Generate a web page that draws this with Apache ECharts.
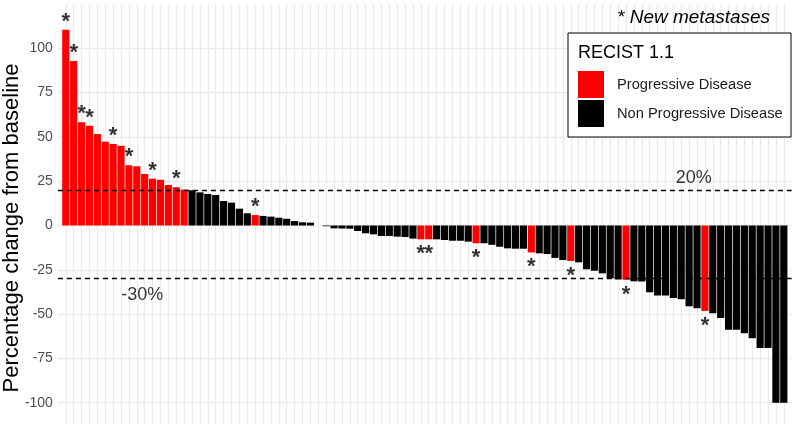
<!DOCTYPE html>
<html><head><meta charset="utf-8">
<script src="https://cdn.jsdelivr.net/npm/echarts@6/dist/echarts.min.js"></script>
<style>html,body{margin:0;padding:0;background:#fff}#c{width:794px;height:424px}</style>
</head><body><div id="c"></div>
<script>
// Percentage change from baseline, one bar per patient (sorted)
const changes = [
  110.5, 92.8, 58.2, 56.3, 51.6, 47.3, 46.0, 45.0, 34.0, 33.4,
  29.1, 26.4, 25.8, 22.9, 21.6, 20.3, 19.9, 18.7, 17.8, 17.2,
  13.8, 12.9, 9.5, 6.9, 5.9, 5.4, 5.0, 4.4, 3.8, 2.5,
  1.8, 1.6, 0, -0.4, -1.6, -1.7, -1.8, -3.1, -4.4, -5.0,
  -5.9, -5.9, -6.3, -6.5, -7.4, -7.8, -7.8, -7.8, -8.2, -8.6,
  -8.6, -9.1, -10.0, -10.0, -10.9, -12.0, -12.9, -13.1, -13.1, -15.2,
  -15.7, -16.1, -18.3, -19.5, -20.0, -20.8, -24.7, -25.5, -27.0, -29.8,
  -30.4, -30.6, -31.5, -31.6, -37.7, -39.5, -39.5, -40.9, -41.6, -45.6,
  -46.7, -48.2, -49.5, -52.2, -58.9, -58.9, -60.8, -63.6, -69.1, -69.1,
  -100, -100
];
// 1-based positions of bars with RECIST progressive disease
const progressiveBars = [1,2,3,4,5,6,7,8,9,10,11,12,13,14,15,16,25,46,47,53,60,65,72,82];
// 1-based positions of bars with new metastases (*)
const metastasesBars = [1,2,3,4,7,9,12,15,25,46,47,53,60,65,72,82];
const yTicks = [-100,-75,-50,-25,0,25,50,75,100];
const thresholds = [20, -30];
const thresholdLabels = [[80.6, 26.6, '20%'], [10.7, -39.4, '-30%']];
const legendNames = ['Progressive Disease', 'Non Progressive Disease'];
const legendTitle = 'RECIST 1.1';
const noteText = '* New metastases';
const yTitle = 'Percentage change from baseline';

const FONT = '"Liberation Sans", Arial, sans-serif';
const pdData = [], npdData = [];
changes.forEach((v, i) => {
  const pos = i + 1;
  if (progressiveBars.includes(pos)) pdData.push([pos, v]); else npdData.push([pos, v]);
});
const starData = metastasesBars.map(p => {
  const v = changes[p - 1];
  return { value: [p, v], label: { offset: [0, v >= 0 ? -8 : 15] } };
});

const chart = echarts.init(document.getElementById('c'), null, { renderer: 'canvas' });
chart.setOption({
  animation: false,
  backgroundColor: '#fff',
  grid: { left: 57.9, top: 4, width: 733.8, height: 443, containLabel: false, outerBoundsMode: 'none' },
  xAxis: {
    type: 'value', min: 0, max: changes.length + 1, interval: 1,
    axisLine: { show: false }, axisTick: { show: false }, axisLabel: { show: false },
    splitLine: { show: true, showMinLine: false, showMaxLine: false, lineStyle: { color: '#ebebeb', width: 1.4 } }
  },
  yAxis: {
    type: 'value', min: -125, max: 125, interval: 25,
    axisLine: { show: false }, axisTick: { show: false },
    axisLabel: { showMinLabel: false, showMaxLabel: false, fontSize: 14, color: '#4d4d4d', fontFamily: FONT, margin: 5 },
    splitLine: { show: true, showMinLine: false, showMaxLine: false, lineStyle: { color: '#ebebeb', width: 1.4 } }
  },
  legend: {
    data: legendNames, orient: 'vertical', left: 578, top: 71, padding: 0,
    itemWidth: 26, itemHeight: 27, itemGap: 2, icon: 'rect', selectedMode: false,
    textStyle: { fontSize: 14.7, color: '#1a1a1a', fontFamily: FONT, padding: [0, 0, 0, 8] }, z: 6
  },
  graphic: [
    { type: 'rect', z: 5, shape: { x: 568, y: 33, width: 223, height: 104 },
      style: { fill: '#fff', stroke: '#000', lineWidth: 1 } },
    { type: 'text', z: 7, x: 578, y: 53, style: { text: legendTitle, font: '18px ' + FONT, fill: '#000', verticalAlign: 'middle', align: 'left' } },
    { type: 'text', z: 7, x: 617, y: 18, style: { text: noteText, font: 'italic 19px ' + FONT, fill: '#000', verticalAlign: 'middle', align: 'left' } },
    { type: 'text', z: 7, x: 12, y: 228, rotation: Math.PI / 2,
      style: { text: yTitle, font: '22px ' + FONT, fill: '#000', verticalAlign: 'middle', align: 'center' } }
  ],
  series: [
    { name: legendNames[0], type: 'bar', data: pdData, barWidth: 7.2, barGap: '-100%',
      itemStyle: { color: '#ff0000' }, z: 2,
      markLine: { silent: true, symbol: ['none', 'none'], label: { show: false },
        lineStyle: { color: '#000', type: [5, 4], width: 1.3 },
        data: thresholds.map(t => ({ yAxis: t })) } },
    { name: legendNames[1], type: 'bar', data: npdData, barWidth: 7.2, barGap: '-100%',
      itemStyle: { color: '#000000' }, z: 2 },
    { name: 'stars', type: 'scatter', data: starData, symbolSize: 1, itemStyle: { color: 'rgba(0,0,0,0)' }, z: 3,
      label: { show: true, position: 'inside', formatter: '*', fontSize: 22, fontWeight: 'bold', color: '#000', fontFamily: FONT } },
    { name: 'thresholdText', type: 'scatter', data: thresholdLabels, symbolSize: 1, itemStyle: { color: 'rgba(0,0,0,0)' }, z: 3,
      label: { show: true, position: 'inside', formatter: p => p.value[2], fontSize: 18, color: '#000', fontFamily: FONT } }
  ]
});
</script></body></html>
